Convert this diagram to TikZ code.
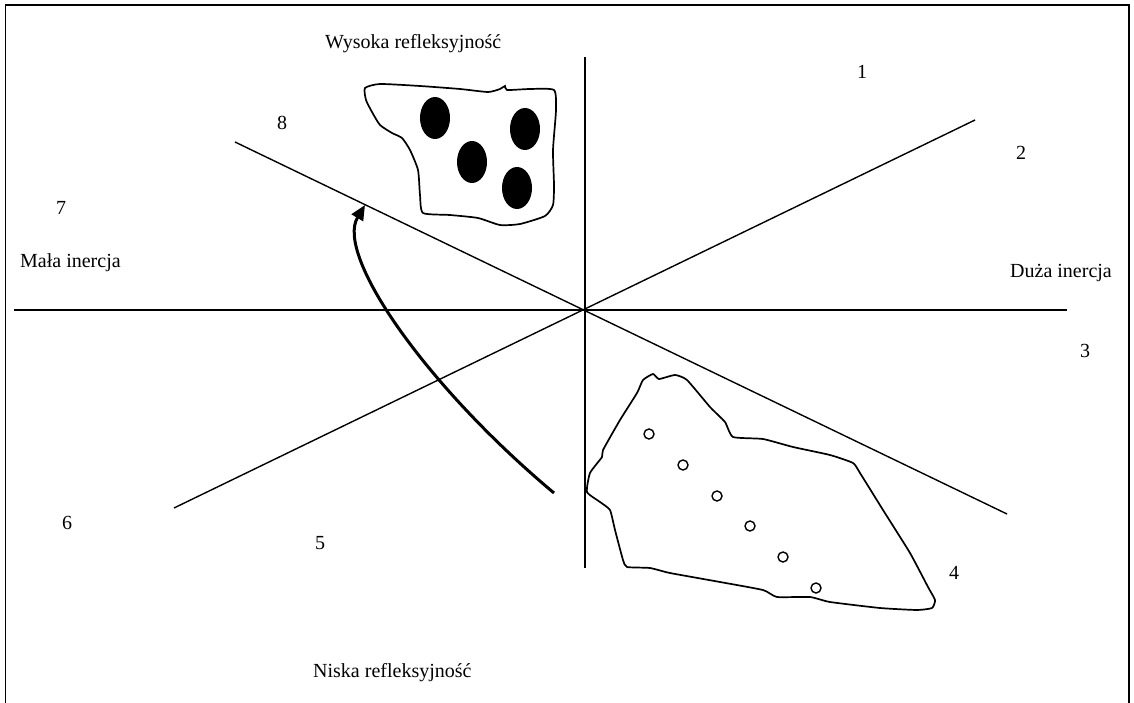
\documentclass[tikz,border=0pt]{standalone}
\usepackage{fontspec}
\setmainfont{Liberation Serif}
\usetikzlibrary{arrows.meta}
\begin{document}
\begin{tikzpicture}[x=1pt,y=-1pt,
  axis/.style={line width=1.4pt},
  blob/.style={line width=1.7pt},
  lbl/.style={font=\fontsize{20}{24}\selectfont, inner sep=0pt}]
\useasboundingbox (0,0) rectangle (1134,703);
% frame
\draw[line width=1.8pt] (5.5,710) -- (5.5,5) -- (1129,5) -- (1129,710);
% axes
\coordinate (c) at (585,310);
\coordinate (vt) at (585,57);  \coordinate (vb) at (585,568);
\coordinate (hl) at (14,310);  \coordinate (hr) at (1067,310);
\coordinate (d1a) at (975,120); \coordinate (d1b) at (174,508);
\coordinate (d2a) at (235,142); \coordinate (d2b) at (1007,514);
\draw[axis] (vt) -- (vb);
\draw[axis] (hl) -- (hr);
\draw[axis] (d1a) -- (d1b);
\draw[axis] (d2a) -- (d2b);
% top blob
\draw[blob] plot[smooth cycle, tension=0.35] coordinates {
 (365,88) (380,84) (420,86) (460,89) (488,92) (500,89) (505,86) (507,90) (530,89) (554,90)
 (556,110) (553,150) (554,185) (553,205) (545,216) (520,224) (500,225) (478,218) (450,215)
 (423,213) (420,195) (418,170) (410,150) (402,138) (392,133) (380,125) (372,112) (366,100)};
\fill (435,118) ellipse [x radius=15, y radius=21];
\fill (525,129) ellipse [x radius=15, y radius=21];
\fill (472,162) ellipse [x radius=15, y radius=21];
\fill (517,188) ellipse [x radius=15, y radius=21];
% bottom blob
\draw[blob] plot[smooth cycle, tension=0.3] coordinates {
 (587,492) (590,473) (602,457) (603,450) (620,420) (637,393) (643,380) (653,374) (659,379)
 (675,375) (687,380) (710,407) (725,422) (733,437) (763,439) (793,447) (830,455) (853,463)
 (860,473) (883,510) (910,553) (928,587) (935,600) (932,608) (917,610) (880,608) (830,602)
 (810,597) (777,597) (763,590) (720,582) (670,573) (650,568) (627,567) (623,560) (615,530)
 (610,510) (600,502)};
\foreach \p in {(649,434),(683,465),(717,496),(750,526),(783,557),(816,588)}
  \draw[line width=1.4pt] \p circle (5);
% arrow
\coordinate (as) at (554,493);
\coordinate (ae) at (365,205);
\draw[line width=3pt, -{Triangle[length=15pt,width=13pt]}] (as) .. controls (425,385) and (335,255) .. (ae);
% labels
\node[lbl, anchor=base west] (wys) at (325,49) {Wysoka refleksyjność};
\node[lbl, anchor=base west] (nis) at (313,677) {Niska refleksyjność};
\node[lbl, anchor=base west] (mal) at (20,267) {Mała inercja};
\node[lbl, anchor=base east] (duz) at (1112,277) {Duża inercja};
\node[lbl] (n1) at (862,72) {1};
\node[lbl] (n2) at (1021,153) {2};
\node[lbl] (n3) at (1085,351) {3};
\node[lbl] (n4) at (954,573) {4};
\node[lbl] (n5) at (320,543) {5};
\node[lbl] (n6) at (67,523) {6};
\node[lbl] (n7) at (61,208) {7};
\node[lbl] (n8) at (282,123) {8};
\end{tikzpicture}
\end{document}
